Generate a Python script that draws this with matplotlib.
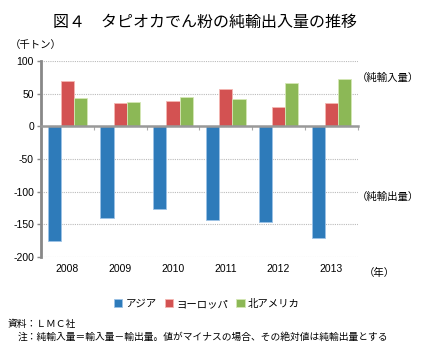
import matplotlib
matplotlib.use("Agg")
import matplotlib.pyplot as plt
import numpy as np

plt.rcParams['font.family'] = ['Liberation Sans', 'Noto Sans CJK JP']
plt.rcParams['axes.unicode_minus'] = False
JP = ['Noto Sans CJK JP', 'DejaVu Sans']

# 純輸入量（千トン）、マイナスは純輸出
years = ["2008", "2009", "2010", "2011", "2012", "2013"]
asia = [-175, -140, -126, -143, -146, -171]
europe = [69, 36, 39, 57, 29, 35]
north_america = [43, 37, 45, 42, 67, 72]

series = [("アジア", asia, "#2E7BBA", "#9DC3E6"),
          ("ヨーロッパ", europe, "#D35252", "#F4B7B2"),
          ("北アメリカ", north_america, "#8CB856", "#D5E8B5")]

fig = plt.figure(figsize=(4.4, 3.59), dpi=100)
ax = fig.add_axes([0.093, 0.284, 0.72, 0.546])

x = np.arange(len(years))
w = 0.25
for i, (name, vals, col, edge) in enumerate(series):
    ax.bar(x + (i - 1) * w, vals, w, color=col, edgecolor=edge, linewidth=0.6,
           label=name, zorder=2)

ax.set_xlim(-0.5, len(years) - 0.5)
ax.set_ylim(-200, 100)
ax.set_yticks(np.arange(-200, 101, 50))
ax.tick_params(axis='y', labelsize=7.5, length=3, width=1, color="#888888", pad=2)
ax.yaxis.grid(True, linestyle=(0, (1, 1)), color="#bbbbbb", linewidth=0.8, zorder=0)
ax.set_axisbelow(True)

for s in ["top", "right"]:
    ax.spines[s].set_visible(False)
ax.spines["left"].set_color("#888888")
ax.spines["left"].set_linewidth(2)
ax.spines["bottom"].set_position(("data", 0))
ax.spines["bottom"].set_color("#999999")
ax.spines["bottom"].set_linewidth(1.8)
ax.spines["bottom"].set_zorder(3)
ax.set_xticks(np.arange(len(years) + 1) - 0.5)
ax.set_xticklabels([])
ax.tick_params(axis='x', length=3, width=0.8, color="#aaaaaa", direction="out")

for i, yr in enumerate(years):
    ax.text(i, -0.06, yr, transform=ax.get_xaxis_transform(), ha="center",
            va="center", fontsize=7.5)

fig.text(0.827, 1 - 273 / 359, "（年）", fontsize=7.5, va="center", ha="left", family=JP)
fig.text(0.022, 1 - 45 / 359, "（千トン）", fontsize=7.5, va="center", ha="left", family=JP)
fig.text(0.81, 1 - 78 / 359, "（純輸入量）", fontsize=7.5, va="center", ha="left", family=JP)
fig.text(0.81, 1 - 197 / 359, "（純輸出量）", fontsize=7.5, va="center", ha="left", family=JP)

fig.text(0.466, 1 - 22 / 359, "図４　タピオカでん粉の純輸出入量の推移",
         fontsize=11.5, ha="center", va="center", family=JP)

fig.legend(loc="center", bbox_to_anchor=(0.47, 1 - 304 / 359), ncol=3,
           frameon=False, prop={'family': JP, 'size': 7.5}, handlelength=0.8,
           handleheight=0.8, handletextpad=0.3, columnspacing=0.8)

fig.text(0.018, 1 - 324 / 359, "資料：ＬＭＣ社", fontsize=7, va="center", ha="left", family=JP)
fig.text(0.04, 1 - 337 / 359,
         "注：純輸入量＝輸入量－輸出量。値がマイナスの場合、その絶対値は純輸出量とする",
         fontsize=7, va="center", ha="left", family=JP)

fig.savefig("out.png", dpi=100)
